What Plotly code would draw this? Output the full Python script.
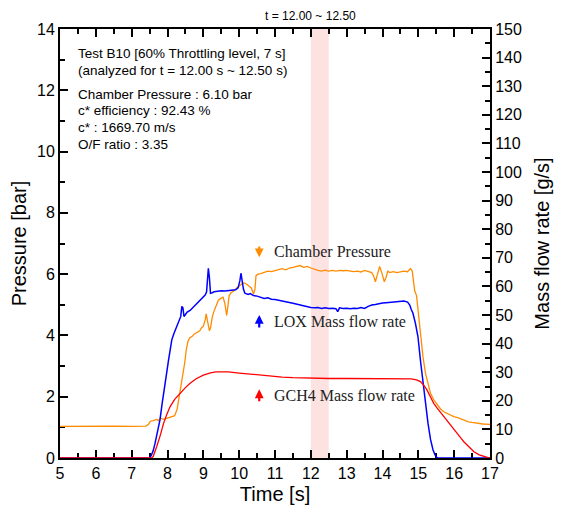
import plotly.graph_objects as go

# Chamber pressure [bar]
P_t = [5.0, 5.5, 6.0, 6.5, 7.0, 7.4, 7.47, 7.52, 7.6, 7.7, 7.75, 7.8, 7.9, 8.0, 8.1, 8.2,
       8.27, 8.33, 8.38, 8.43, 8.48, 8.52, 8.57, 8.62, 8.7, 8.75, 8.82, 8.9, 8.95, 9.0,
       9.05, 9.08, 9.12, 9.17, 9.2, 9.25, 9.3, 9.35, 9.42, 9.48, 9.55, 9.6, 9.65, 9.68,
       9.72, 9.78, 9.85, 9.93, 10.0, 10.06, 10.12, 10.2, 10.28, 10.34, 10.4, 10.44, 10.47,
       10.52, 10.6, 10.7, 10.8, 10.9, 11.0, 11.1, 11.2, 11.3, 11.4, 11.5, 11.6, 11.7, 11.8,
       11.9, 12.0, 12.1, 12.2, 12.3, 12.4, 12.5, 12.6, 12.7, 12.8, 12.9, 13.0, 13.1, 13.2,
       13.3, 13.4, 13.5, 13.6, 13.7, 13.75, 13.8, 13.85, 13.92, 13.98, 14.05, 14.1, 14.15,
       14.2, 14.3, 14.4, 14.5, 14.6, 14.7, 14.78, 14.83, 14.87, 14.9, 14.95, 15.0, 15.06,
       15.13, 15.2, 15.27, 15.34, 15.43, 15.53, 15.62, 15.71, 15.8, 15.9, 15.99, 16.1,
       16.27, 16.4, 16.5, 16.65, 16.8, 17.0]
P_v = [1.03, 1.04, 1.03, 1.04, 1.03, 1.04, 1.10, 1.20, 1.22, 1.26, 1.22, 1.30, 1.26, 1.30,
       1.33, 1.38, 1.6, 2.0, 2.35, 2.65, 3.1, 3.5, 3.8, 3.92, 3.98, 4.05, 4.1, 4.15, 4.25,
       4.3, 4.5, 4.7, 4.45, 4.15, 4.25, 4.6, 4.8, 4.95, 5.15, 5.2, 5.25, 5.05, 4.65, 4.9,
       5.3, 5.4, 5.45, 5.55, 5.62, 5.65, 5.72, 5.68, 5.6, 5.55, 5.35, 5.5, 5.95, 6.0, 6.02,
       6.05, 6.1, 6.08, 6.12, 6.15, 6.18, 6.14, 6.2, 6.22, 6.25, 6.28, 6.22, 6.25, 6.2,
       6.15, 6.12, 6.1, 6.13, 6.1, 6.12, 6.1, 6.12, 6.11, 6.12, 6.1, 6.08, 6.1, 6.07, 6.12,
       6.08, 6.05, 5.95, 5.75, 5.95, 6.25, 6.05, 5.75, 5.9, 6.1, 6.05, 6.08, 6.05, 6.07,
       6.1, 6.08, 6.18, 6.1, 5.75, 5.45, 5.3, 4.7, 3.96, 3.3, 2.76, 2.4, 2.11, 1.9, 1.73,
       1.6, 1.51, 1.45, 1.4, 1.35, 1.32, 1.24, 1.18, 1.16, 1.13, 1.11, 1.10]

# LOX mass flow rate [g/s]
L_t = [5.0, 7.5, 7.55, 7.6, 7.65, 7.7, 7.75, 7.79, 7.85, 7.9, 7.93, 7.98, 8.03, 8.08, 8.12,
       8.18, 8.26, 8.32, 8.37, 8.4, 8.43, 8.46, 8.49, 8.55, 8.63, 8.7, 8.76, 8.82, 8.9, 8.95,
       9.0, 9.05, 9.09, 9.12, 9.14, 9.17, 9.2, 9.25, 9.3, 9.4, 9.5, 9.6, 9.7, 9.8, 9.9, 9.97,
       10.02, 10.05, 10.08, 10.12, 10.16, 10.25, 10.31, 10.4, 10.5, 10.6, 10.7, 10.8, 10.9,
       11.0, 11.1, 11.2, 11.3, 11.4, 11.5, 11.6, 11.7, 11.8, 11.9, 12.0, 12.1, 12.2, 12.3,
       12.4, 12.5, 12.6, 12.7, 12.75, 12.8, 12.9, 13.0, 13.1, 13.2, 13.3, 13.4, 13.5, 13.6,
       13.7, 13.8, 13.9, 14.0, 14.1, 14.2, 14.3, 14.4, 14.5, 14.6, 14.7, 14.76, 14.8, 14.85,
       14.92, 14.99, 15.06, 15.13, 15.2, 15.27, 15.34, 15.41, 15.47, 15.53, 17.0]
L_v = [0, 0, 1, 2.5, 5, 8, 10.5, 13.3, 19, 24, 26, 30, 34.3, 38, 41.3, 43.5, 45.9, 47.5,
       49.5, 53, 52.5, 49.5, 50, 51, 51.6, 52.5, 53.5, 54.1, 55, 56, 56.4, 57, 58, 64, 66.3,
       63, 57.6, 57.8, 58.1, 58.3, 58.5, 58.4, 58.6, 58.7, 58.8, 59.5, 62, 64.6, 62, 59,
       57.6, 57.2, 57.5, 56.8, 56.6, 56.2, 55.8, 56, 55.5, 55.4, 55.2, 55, 54.8, 54.4, 54.1,
       53.8, 53.4, 53.1, 52.9, 52.6, 52.5, 52.6, 52.3, 52.5, 52.3, 52.4, 52.2, 51.2, 52.5,
       52.3, 52.4, 52.2, 52.4, 52.3, 52.6, 52.3, 53, 53.5, 53.7, 54, 54.2, 54.3, 54.4, 54.6,
       54.6, 54.7, 54.9, 54.5, 53.5, 52, 50.6, 47, 42.4, 34, 26.1, 18.5, 12.1, 6.5, 2.8, 1,
       0, 0]

# GCH4 mass flow rate [g/s]
G_t = [5.0, 7.55, 7.6, 7.65, 7.7, 7.8, 7.89, 7.98, 8.07, 8.2, 8.35, 8.5, 8.63, 8.8, 9.0,
       9.2, 9.35, 9.5, 9.7, 10.0, 10.3, 10.6, 10.9, 11.2, 11.5, 12.0, 12.5, 13.0, 13.5, 14.0,
       14.5, 14.8, 14.95, 15.06, 15.15, 15.24, 15.34, 15.43, 15.52, 15.6, 15.71, 15.8, 15.9,
       15.99, 16.1, 16.2, 16.27, 16.4, 16.55, 16.7, 16.83, 16.95, 17.0]
G_v = [0, 0, 0.5, 2, 4, 8, 12.1, 15.2, 17.9, 20.5, 22.6, 24.6, 26.1, 27.7, 29, 29.8, 30.1,
       30.2, 30.1, 29.7, 29.3, 28.9, 28.6, 28.3, 28.1, 27.9, 27.8, 27.8, 27.8, 27.8, 27.8,
       27.7, 27.3, 26.7, 25.5, 23.8, 21.3, 19.1, 17.5, 16.2, 14.4, 13, 11.4, 9.8, 8.2, 6.8,
       5.7, 4, 2.2, 1.1, 0.45, 0.1, 0]

info_lines = ["Test B10 [60% Throttling level, 7 s]",
              "(analyzed for t = 12.00 s ~ 12.50 s)",
              "Chamber Pressure : 6.10 bar",
              "c* efficiency : 92.43 %",
              "c* : 1669.70 m/s",
              "O/F ratio : 3.35"]
window = [12.0, 12.5]

fig = go.Figure()
fig.add_vrect(x0=window[0], x1=window[1], fillcolor="#FDE2E2", line_width=0, layer="below")
fig.add_trace(go.Scatter(x=P_t, y=P_v, mode="lines", line=dict(color="#FF8C00", width=1.3),
                         name="Chamber Pressure"))
fig.add_trace(go.Scatter(x=L_t, y=L_v, mode="lines", line=dict(color="#0000FF", width=1.5),
                         name="LOX", yaxis="y2"))
fig.add_trace(go.Scatter(x=G_t, y=G_v, mode="lines", line=dict(color="#FF0000", width=1.3),
                         name="GCH4", yaxis="y2"))

axfont = dict(family="Liberation Sans, Arial", size=16, color="black")
common = dict(ticks="inside", ticklen=8, tickwidth=2, tickcolor="black",
              showline=True, linecolor="black", linewidth=2,
              gridcolor="rgba(0,0,0,0)", zerolinecolor="black",
              tickfont=axfont, automargin=False, layer="below traces")
minor_common = dict(ticks="inside", ticklen=5, tickwidth=2, tickcolor="black",
                    gridcolor="rgba(0,0,0,0)")
# page body has an 8 px margin, so the figure is offset by (8, 8)
fig.update_layout(
    width=564, height=519,
    margin=dict(l=52, r=82, t=21, b=69),
    plot_bgcolor="white", paper_bgcolor="white",
    showlegend=False,
    font=dict(family="Liberation Sans, Arial", color="black"),
    xaxis=dict(range=[5, 17], dtick=1, tick0=5, mirror="ticks",
               minor=dict(dtick=0.5, **minor_common),
               title=dict(text="Time [s]", font=dict(size=20), standoff=6), **common),
    yaxis=dict(range=[0, 14], dtick=2,
               minor=dict(dtick=1, **minor_common),
               title=dict(text="Pressure [bar]", font=dict(size=20), standoff=10), **common),
    yaxis2=dict(range=[0, 150], dtick=10, overlaying="y", side="right",
                minor=dict(dtick=5, **minor_common),
                title=dict(text="Mass flow rate [g/s]", font=dict(size=20), standoff=14), **common),
)

# window label
fig.add_annotation(x=12.0, y=1.03, xref="x", yref="paper", text="t = 12.00 ~ 12.50",
                   showarrow=False, font=dict(size=12), xanchor="center", yanchor="middle")

# info text
info_y = [13.21, 12.64, 11.87, 11.33, 10.78, 10.24]
for txt, yy in zip(info_lines, info_y):
    fig.add_annotation(x=5.45, y=yy, xref="x", yref="y", text=txt, showarrow=False,
                       xanchor="left", yanchor="middle", font=dict(size=13.5))

# series labels with arrows
serif = dict(family="Liberation Serif, DejaVu Serif", size=16, color="#222222")
labels = [("Chamber Pressure", "#FF8C00", 6.55, 6.95, 6.73),
          ("LOX Mass flow rate", "#0000FF", 4.67, 4.21, 4.45),
          ("GCH4 Mass flow rate", "#FF0000", 2.24, 1.80, 2.03)]
for txt, col, tip, tail, ty in labels:
    fig.add_annotation(x=10.56, y=tip, ax=10.56, ay=tail, xref="x", yref="y",
                       axref="x", ayref="y", text="", showarrow=True, arrowhead=2,
                       arrowsize=0.8, arrowwidth=2.2, arrowcolor=col)
    fig.add_annotation(x=10.92, y=ty, xref="x", yref="y", text=txt, showarrow=False,
                       xanchor="left", yanchor="middle", font=serif)

fig.write_html("out.html")
